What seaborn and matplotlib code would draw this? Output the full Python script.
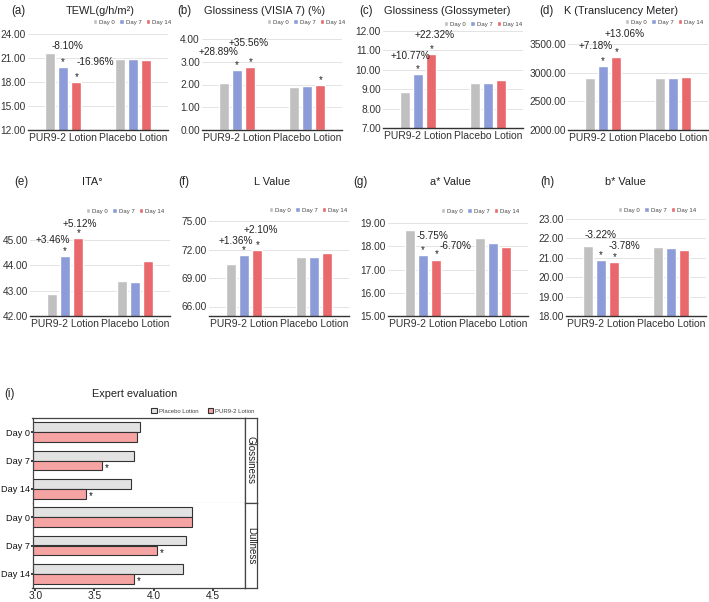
import numpy as np
import pandas as pd
import matplotlib
matplotlib.use("Agg")
import matplotlib.pyplot as plt
import seaborn as sns

# ---- data ----
groups = ['PUR9-2 Lotion', 'Placebo Lotion']
days = ['Day 0', 'Day 7', 'Day 14']

tewl_pur = [21.62, 19.87, 17.95]
tewl_placebo = [20.86, 20.86, 20.76]
visia_pur = [2.05, 2.64, 2.78]
visia_placebo = [1.90, 1.93, 1.97]
glossmeter_pur = [8.85, 9.80, 10.83]
glossmeter_placebo = [9.33, 9.34, 9.45]
k_pur = [2900, 3108, 3279]
k_placebo = [2910, 2900, 2925]
ita_pur = [42.87, 44.35, 45.06]
ita_placebo = [43.36, 43.33, 44.17]
l_pur = [70.47, 71.43, 71.95]
l_placebo = [71.25, 71.20, 71.60]
a_pur = [18.68, 17.61, 17.43]
a_placebo = [18.35, 18.12, 17.98]
b_pur = [21.60, 20.90, 20.78]
b_placebo = [21.57, 21.53, 21.40]

expert_days = ['Day 0', 'Day 7', 'Day 14']
lotions = ['Placebo Lotion', 'PUR9-2 Lotion']
gloss_placebo = [3.886, 3.835, 3.807]
gloss_pur = [3.863, 3.561, 3.425]
dull_placebo = [4.323, 4.275, 4.247]
dull_pur = [4.323, 4.027, 3.835]

W, H = 709, 602
day_colors = ['#C0C0C0', '#8C9CD8', '#E9686C']
grid_col = '#E3E3E3'
txt_col = '#333333'

sns.set_theme(style="white")
plt.rcParams['font.family'] = ['Liberation Sans', 'DejaVu Sans']

fig = plt.figure(figsize=(W / 100, H / 100), dpi=100)


def add_ax(left, right, top, bottom):
    return fig.add_axes([left / W, 1 - bottom / H, (right - left) / W, (bottom - top) / H])


# panel layout: letter, title, pur, placebo, ylim, ticks, c0 (px), y px of ylim top/bottom,
# letter x, title x, title y, legend centre, pct labels (text, x, y), stars (group, day)
panels = [
    ('(a)', 'TEWL(g/h/m²)', tewl_pur, tewl_placebo, (12, 24), np.arange(12, 25, 3), 63, 34, 130,
     18, 100, 11, (132, 22), [('-8.10%', 0.07, 22.45), ('-16.96%', 0.46, 20.5)], [(0, 1), (0, 2)]),
    ('(b)', 'Glossiness (VISIA 7) (%)', visia_pur, visia_placebo, (0, 4), np.arange(0, 5, 1), 237, 39, 130,
     184, 265, 11, (306, 22), [('+28.89%', -0.27, 3.44), ('+35.56%', 0.16, 3.84)], [(0, 1), (0, 2), (1, 2)]),
    ('(c)', 'Glossiness (Glossymeter)', glossmeter_pur, glossmeter_placebo, (7, 12), np.arange(7, 13, 1), 418, 31, 128,
     366, 447, 11, (483, 24), [('+10.77%', -0.11, 10.72), ('+22.32%', 0.24, 11.8)], [(0, 1), (0, 2)]),
    ('(d)', 'K (Translucency Meter)', k_pur, k_placebo, (2000, 3500), np.arange(2000, 3501, 500), 603, 44, 130,
     546, 621, 11, (664, 22), [('+7.18%', -0.11, 3459), ('+13.06%', 0.31, 3675)], [(0, 1), (0, 2)]),
    ('(e)', 'ITA°', ita_pur, ita_placebo, (42, 45.15), np.arange(42, 46, 1), 65, 236, 316,
     21, 92, 182, (125, 211), [('+3.46%', -0.17, 45.0), ('+5.12%', 0.21, 45.63)], [(0, 1), (0, 2)]),
    ('(f)', 'L Value', l_pur, l_placebo, (65, 75), np.arange(66, 76, 3), 244, 221, 316,
     184, 272, 182, (308, 210), [('+1.36%', -0.11, 72.9), ('+2.10%', 0.24, 74.1)], [(0, 1), (0, 2)]),
    ('(g)', 'a* Value', a_pur, a_placebo, (15, 19), np.arange(15, 20, 1), 423, 223, 316,
     360, 450, 182, (480, 211), [('-5.75%', 0.13, 18.45), ('-6.70%', 0.47, 17.99)], [(0, 1), (0, 2)]),
    ('(h)', 'b* Value', b_pur, b_placebo, (18, 23), np.arange(18, 24, 1), 601, 219, 316,
     547, 625, 182, (657, 210), [('-3.22%', -0.01, 22.19), ('-3.78%', 0.34, 21.59)], [(0, 1), (0, 2)]),
]

step = 70  # px between group centres
for (letter, title, pur, plc, ylim, ticks, c0, ytop, ybot,
     lx, tx, ty, leg, pcts, stars) in panels:
    ax = add_ax(c0 - 0.5 * step, c0 + 1.5 * step, ytop, ybot)
    df = pd.DataFrame({'group': np.repeat(groups, 3), 'day': days * 2, 'value': list(pur) + list(plc)})
    sns.barplot(data=df, x='group', y='value', hue='day', order=groups, hue_order=days,
                palette=day_colors, saturation=1, width=0.57, gap=0.27, ax=ax, legend=True)
    ax.set_xlim(-0.5, 1.5)
    ax.set_ylim(*ylim)
    ax.set_yticks(ticks)
    ax.yaxis.set_major_formatter(matplotlib.ticker.StrMethodFormatter('{x:.2f}'))
    ax.grid(axis='y', color=grid_col, lw=0.7)
    ax.set_axisbelow(True)
    for s in ['left', 'top', 'right']:
        ax.spines[s].set_visible(False)
    ax.spines['bottom'].set_color(txt_col)
    ax.spines['bottom'].set_linewidth(1.0)
    ax.tick_params(axis='x', length=0, labelsize=7.5, labelcolor=txt_col, pad=2)
    ax.tick_params(axis='y', length=0, labelsize=7.3, labelcolor=txt_col, pad=1.5)
    ax.set_xlabel('')
    ax.set_ylabel('')

    vals = [pur, plc]
    for g, d in stars:
        ax.annotate('*', (g + (d - 1) * 0.19, vals[g][d]), xytext=(0, 0), textcoords='offset points',
                    ha='center', va='bottom', fontsize=7, color='#222222', annotation_clip=False)
    for text, x, y in pcts:
        ax.text(x, y, text, ha='center', va='center', fontsize=7.2, color='#222222', clip_on=False)

    handles, labels = ax.get_legend_handles_labels()
    ax.legend(handles, labels, loc='center', bbox_to_anchor=(leg[0] / W, 1 - leg[1] / H),
              bbox_transform=fig.transFigure, ncol=3, frameon=False, fontsize=4.3,
              handlelength=0.8, handleheight=0.8, handletextpad=0.3, columnspacing=0.7,
              borderpad=0, labelcolor='#444444')

    fig.text(lx / W, 1 - ty / H, letter, ha='center', va='center', fontsize=8.3, color='#222222')
    fig.text(tx / W, 1 - ty / H, title, ha='center', va='center', fontsize=7.9, color='#222222')

# ---- panel (i): expert evaluation ----
fig.text(9 / W, 1 - 394 / H, '(i)', ha='center', va='center', fontsize=8.3, color='#222222')
fig.text(135 / W, 1 - 394 / H, 'Expert evaluation', ha='center', va='center', fontsize=7.9, color='#222222')

lotion_colors = ['#E2E2E2', '#F6A3A3']
facets = [('Glossiness', gloss_placebo, gloss_pur, 418, 503),
          ('Dullness', dull_placebo, dull_pur, 503, 588)]
for k, (name, plc, pur, top, bot) in enumerate(facets):
    ax = add_ax(32.5, 245, top, bot)
    df = pd.DataFrame({'day': expert_days * 2, 'lotion': np.repeat(lotions, 3),
                       'score': list(plc) + list(pur)})
    sns.barplot(data=df, x='score', y='day', hue='lotion', order=expert_days, hue_order=lotions,
                palette=lotion_colors, saturation=1, orient='h', width=0.7,
                edgecolor='#333333', linewidth=0.8, ax=ax, legend=(k == 0))
    ax.set_xlim(2.975, 4.775)
    ax.set_xticks([3.0, 3.5, 4.0, 4.5])
    ax.set_xlabel('')
    ax.set_ylabel('')
    ax.tick_params(axis='y', length=1.5, labelsize=6.6, labelcolor='#111111', pad=0.3, left=True)
    for s in ax.spines.values():
        s.set_color('#444444')
        s.set_linewidth(0.9)
    if k == 0:
        ax.spines['bottom'].set_color('#DDDDDD')
        ax.tick_params(axis='x', bottom=False, labelbottom=False)
        handles, labels = ax.get_legend_handles_labels()
        ax.legend(handles, labels, loc='center', bbox_to_anchor=(203 / W, 1 - 411 / H),
                  bbox_transform=fig.transFigure, ncol=2, frameon=False, fontsize=4.3,
                  handlelength=0.9, handleheight=0.9, handletextpad=0.4, columnspacing=1.5,
                  borderpad=0, labelcolor='#444444')
    else:
        ax.spines['top'].set_visible(False)
        ax.tick_params(axis='x', length=2, labelsize=7.3, labelcolor='#222222', pad=0.5, bottom=True)
    for d in (1, 2):
        ax.annotate('*', (pur[d], d + 0.175), xytext=(2, -2), textcoords='offset points',
                    ha='left', va='center', fontsize=7, color='#111111')

    sax = add_ax(245, 257, top, bot)
    sax.set_xticks([])
    sax.set_yticks([])
    sax.set_facecolor('white')
    for s in sax.spines.values():
        s.set_color('#444444')
        s.set_linewidth(0.9)
    sax.text(0.5, 0.5, name, rotation=270, ha='center', va='center', fontsize=7,
             color='#222222', transform=sax.transAxes)

fig.savefig('out.png', dpi=100)
